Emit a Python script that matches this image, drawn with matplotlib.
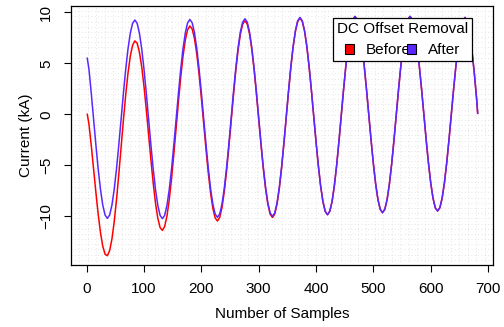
import matplotlib
matplotlib.use("Agg")
import matplotlib.pyplot as plt
from matplotlib.patches import Patch
import numpy as np

plt.rcParams['font.family'] = ['Liberation Sans', 'DejaVu Sans']
plt.rcParams['font.size'] = 11

# sample index and current (kA)
samples = [1] + list(range(4, 684, 4))

after = [5.50, 4.39, 2.04, -0.48, -2.99, -5.34, -7.35, -8.90, -9.87,
         -10.20, -9.87, -8.90, -7.35, -5.34, -2.99, -0.48, 2.04, 4.39, 6.40, 7.95, 8.92,
         9.25, 8.92, 7.94, 6.40, 4.38, 2.03, -0.49, -3.01, -5.36, -7.38, -8.92, -9.90,
         -10.23, -9.90, -8.92, -7.37, -5.35, -2.99, -0.47, 2.06, 4.42, 6.44, 7.99, 8.97,
         9.30, 8.97, 8.00, 6.46, 4.45, 2.11, -0.40, -2.91, -5.25, -7.26, -8.80, -9.77,
         -10.10, -9.77, -8.80, -7.25, -5.23, -2.89, -0.37, 2.16, 4.50, 6.52, 8.07, 9.04,
         9.37, 9.04, 8.07, 6.53, 4.53, 2.19, -0.32, -2.82, -5.16, -7.16, -8.70, -9.67,
         -10.00, -9.67, -8.69, -7.14, -5.13, -2.78, -0.25, 2.28, 4.63, 6.64, 8.19, 9.17,
         9.50, 9.17, 8.20, 6.67, 4.67, 2.33, -0.17, -2.67, -5.01, -7.01, -8.54, -9.51,
         -9.84, -9.51, -8.54, -6.99, -4.98, -2.64, -0.12, 2.40, 4.74, 6.75, 8.30, 9.27,
         9.60, 9.27, 8.31, 6.78, 4.79, 2.47, -0.02, -2.51, -4.83, -6.82, -8.35, -9.31,
         -9.64, -9.31, -8.35, -6.82, -4.83, -2.51, -0.02, 2.47, 4.79, 6.78, 8.31, 9.27,
         9.60, 9.28, 8.32, 6.81, 4.83, 2.53, 0.06, -2.41, -4.71, -6.69, -8.20, -9.16,
         -9.48, -9.16, -8.21, -6.70, -4.73, -2.45, 0.01, 2.47, 4.76, 6.72, 8.23, 9.18,
         9.50, 9.00, 7.90, 6.20, 4.10, 1.60]

before = [0.00, -1.00, -3.09, -5.37, -7.65, -9.78, -11.58, -12.93, -13.71,
          -13.86, -13.36, -12.22, -10.52, -8.36, -5.86, -3.21, -0.57, 1.90, 4.03, 5.69, 6.77,
          7.20, 6.97, 6.08, 4.63, 2.69, 0.42, -2.02, -4.47, -6.75, -8.71, -10.18, -11.10,
          -11.38, -10.99, -9.96, -8.36, -6.30, -3.89, -1.33, 1.24, 3.64, 5.70, 7.28, 8.30,
          8.66, 8.36, 7.42, 5.91, 3.92, 1.61, -0.88, -3.37, -5.69, -7.68, -9.20, -10.15,
          -10.46, -10.11, -9.13, -7.56, -5.53, -3.17, -0.64, 1.90, 4.26, 6.29, 7.85, 8.83,
          9.17, 8.85, 7.89, 6.36, 4.36, 2.03, -0.47, -2.96, -5.30, -7.29, -8.82, -9.79,
          -10.11, -9.78, -8.79, -7.24, -5.22, -2.87, -0.33, 2.20, 4.55, 6.57, 8.12, 9.10,
          9.44, 9.11, 8.15, 6.62, 4.62, 2.29, -0.21, -2.71, -5.01, -7.01, -8.54, -9.51,
          -9.84, -9.51, -8.54, -6.99, -4.98, -2.64, -0.12, 2.40, 4.74, 6.75, 8.30, 9.27,
          9.60, 9.27, 8.31, 6.78, 4.79, 2.47, -0.02, -2.51, -4.83, -6.82, -8.35, -9.31,
          -9.64, -9.31, -8.35, -6.82, -4.83, -2.51, -0.02, 2.47, 4.79, 6.78, 8.31, 9.27,
          9.60, 9.28, 8.32, 6.81, 4.83, 2.53, 0.06, -2.41, -4.71, -6.69, -8.20, -9.16,
          -9.48, -9.16, -8.21, -6.70, -4.73, -2.45, 0.01, 2.47, 4.76, 6.72, 8.23, 9.18,
          9.50, 9.00, 7.90, 6.20, 4.10, 1.60]

# last point where the record ends
end_sample = 682
end_value = 0.1

x_ticks = [0, 100, 200, 300, 400, 500, 600, 700]
y_ticks = [-10, -5, 0, 5, 10]

red = '#ff0000'
blue = '#5a28ff'

fig = plt.figure(figsize=(5.04, 3.27), dpi=100)
ax = fig.add_axes([71/504, 1-265/327, 422/504, 259/327])

x = samples + [end_sample]
ax.plot(x, before + [end_value], color=red, lw=1.1, zorder=3)
ax.plot(x, after + [end_value], color=blue, lw=1.1, zorder=4)

ax.set_xlim(-27.4, 708.7)
ax.set_ylim(-14.77, 10.62)

# R style dense dotted grid (50 x 50 cells)
x0, x1 = ax.get_xlim()
y0, y1 = ax.get_ylim()
for gx in np.linspace(x0, x1, 51)[1:-1]:
    ax.axvline(gx, color='#dcdcdc', lw=0.6, ls=(0, (1, 3)), zorder=1)
for gy in np.linspace(y0, y1, 51)[1:-1]:
    ax.axhline(gy, color='#dcdcdc', lw=0.6, ls=(0, (1, 3)), zorder=1)

ax.set_xticks(x_ticks)
ax.set_yticks(y_ticks)
ax.tick_params(direction='out', length=5, width=0.8, labelsize=11)
ax.tick_params(axis='x', pad=7)
ax.tick_params(axis='y', pad=8)
for lab in ax.get_yticklabels():
    lab.set_rotation(90)
    lab.set_va('center')
for s in ax.spines.values():
    s.set_linewidth(0.9)

ax.set_xlabel('Number of Samples', fontsize=11, labelpad=8)
ax.set_ylabel('Current (kA)', fontsize=11, labelpad=4)

handles = [Patch(facecolor=red, edgecolor='black', lw=0.8),
           Patch(facecolor=blue, edgecolor='black', lw=0.8)]
leg = ax.legend(handles, ['Before', 'After'], ncol=2, title='DC Offset Removal',
                loc='upper right', bbox_to_anchor=((472-71)/422, (265-18)/259),
                borderaxespad=0, fancybox=False, framealpha=1, edgecolor='black',
                handlelength=0.6, handleheight=0.6, handletextpad=0.8,
                columnspacing=-0.3, borderpad=0.25, fontsize=11, title_fontsize=11)
leg.get_frame().set_linewidth(0.9)
leg.set_zorder(5)

fig.savefig('out.png', dpi=100)
